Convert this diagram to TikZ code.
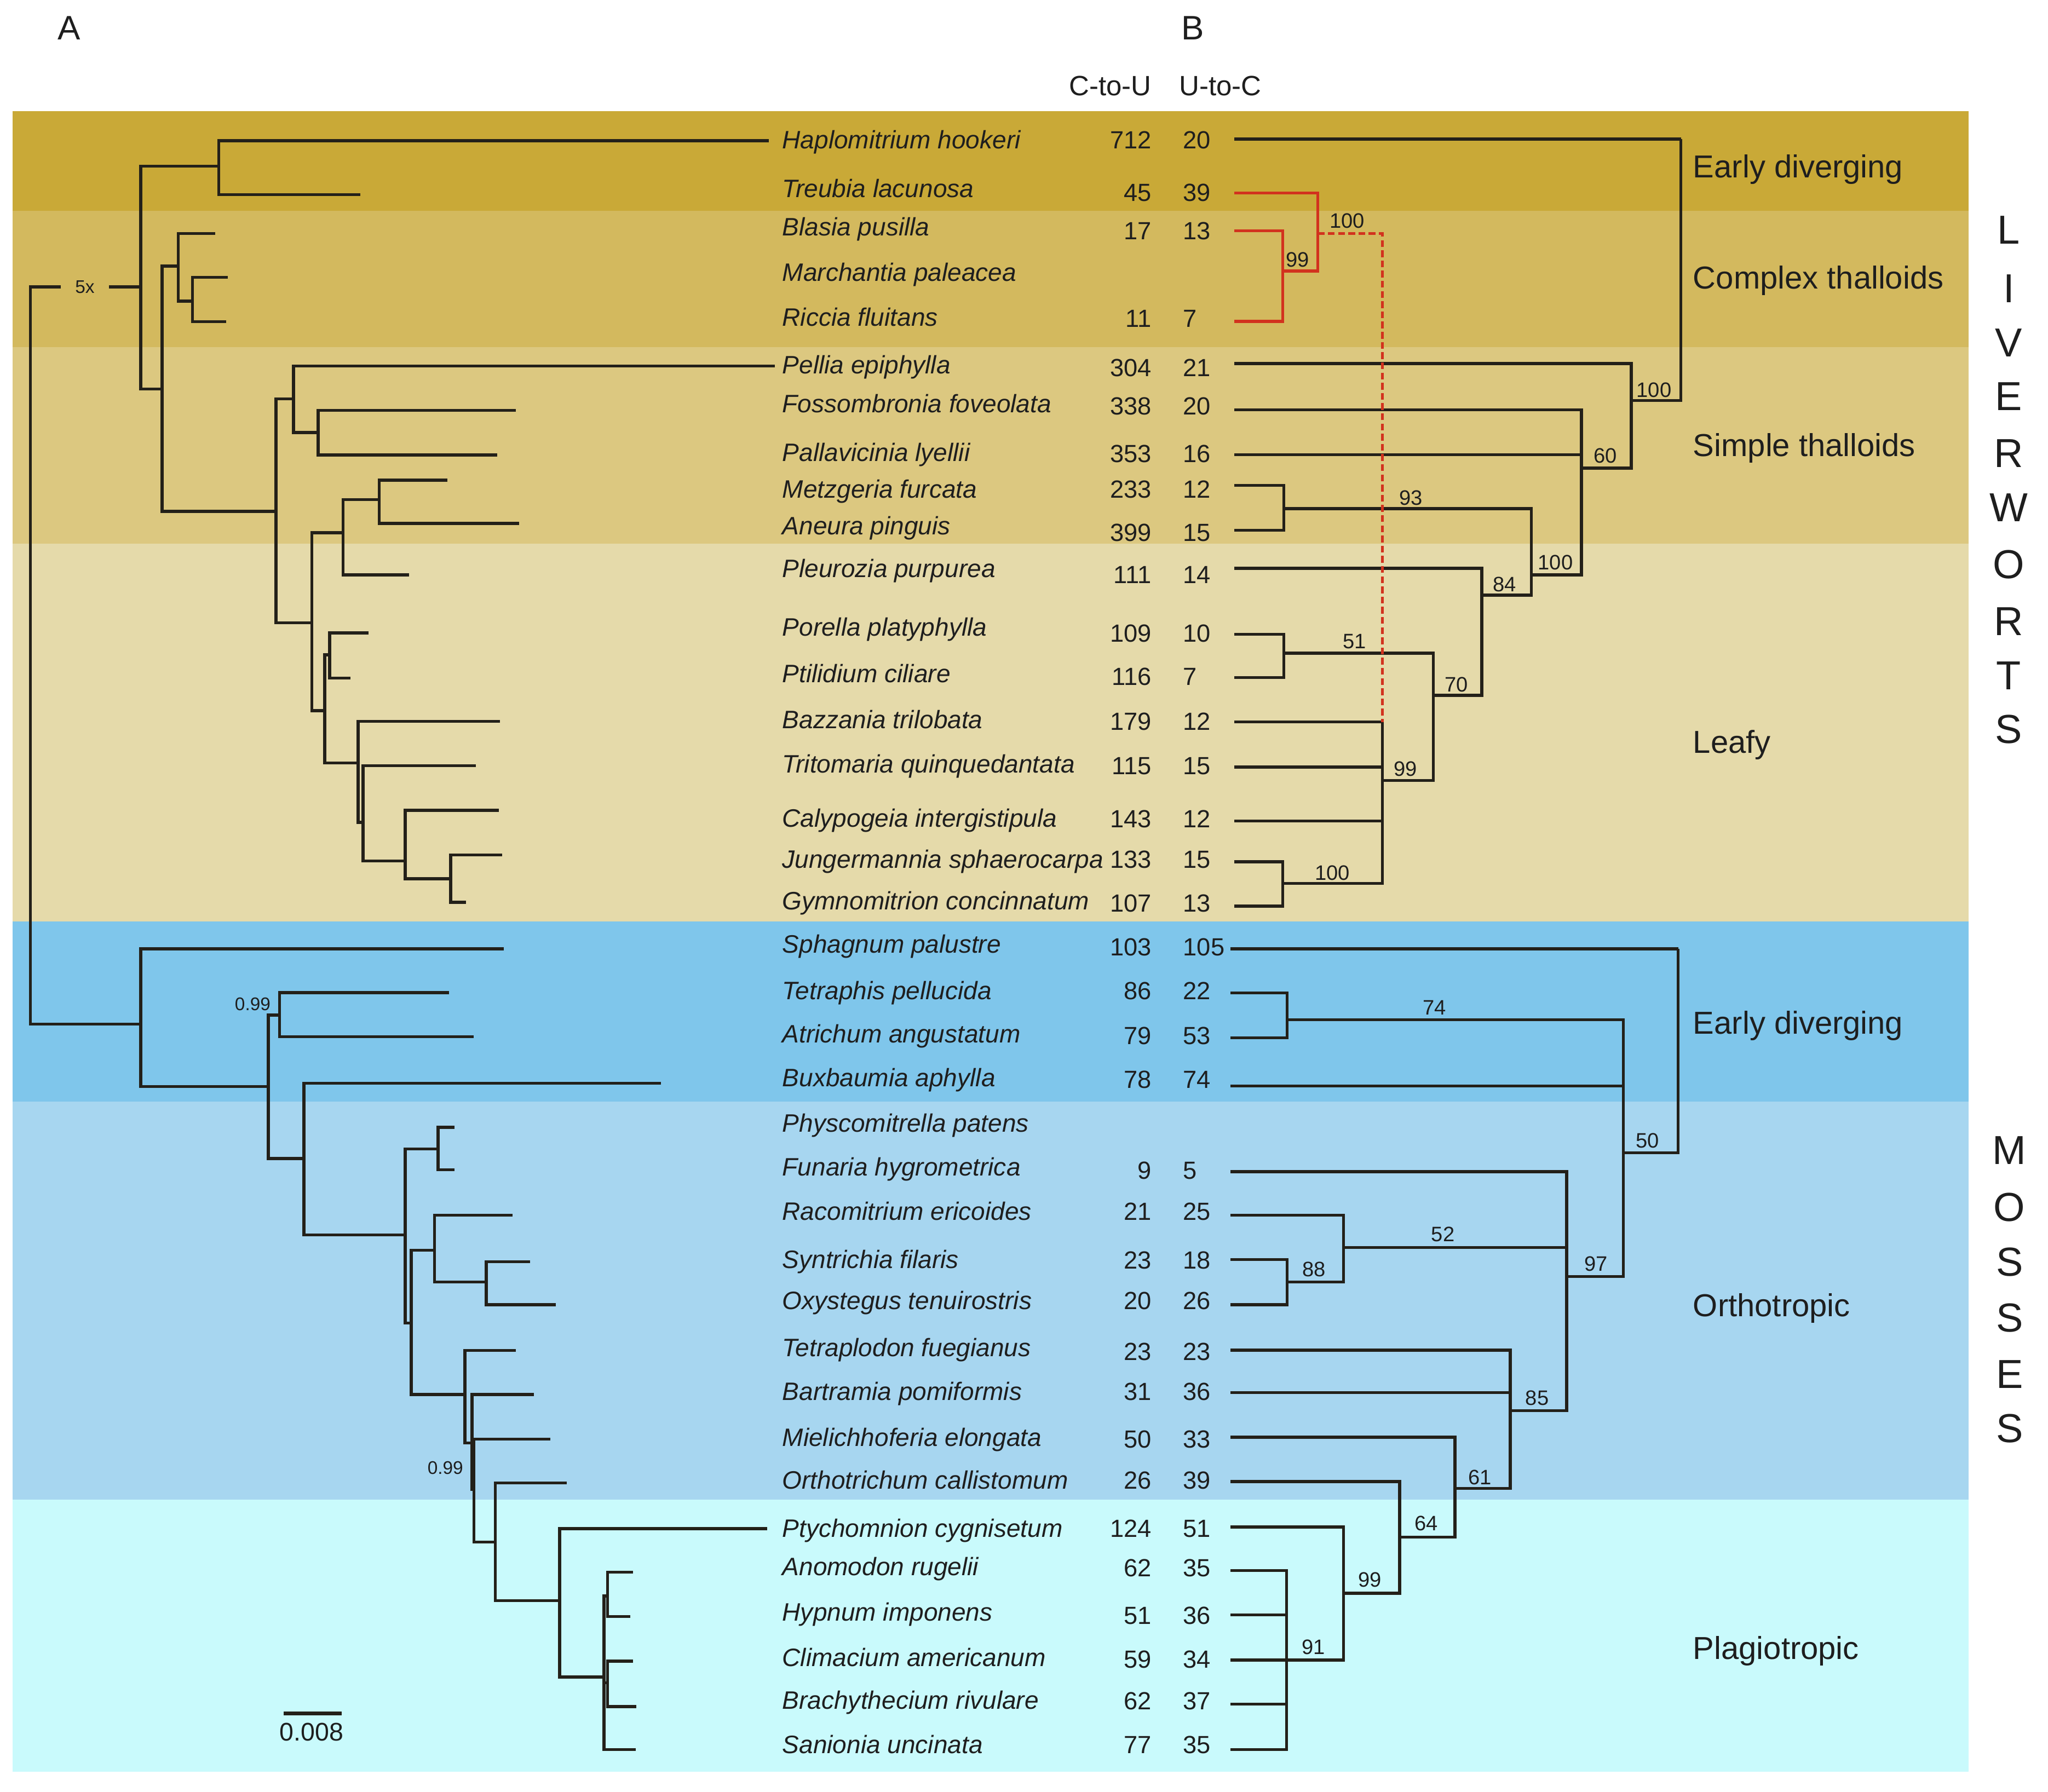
\documentclass[tikz,border=0pt]{standalone}
\usepackage{fontspec}
\setmainfont{Liberation Sans}
\definecolor{bandA}{RGB}{201,169,55}
\definecolor{bandB}{RGB}{211,185,94}
\definecolor{bandC}{RGB}{220,200,128}
\definecolor{bandD}{RGB}{229,218,170}
\definecolor{bandE}{RGB}{127,198,235}
\definecolor{bandF}{RGB}{167,214,240}
\definecolor{bandG}{RGB}{201,250,252}
\definecolor{treecol}{RGB}{35,32,25}
\definecolor{txtcol}{RGB}{30,30,30}
\definecolor{redcol}{RGB}{210,50,30}
\begin{document}
\begin{tikzpicture}[x=0.5pt,y=-0.5pt,
  tree/.style={line width=1.15pt,draw=treecol,line join=miter},
  redtree/.style={line width=1.15pt,draw=redcol,line join=miter},
  species/.style={anchor=west,inner sep=0pt,yshift=-0.9pt,text=txtcol,font=\fontsize{9.65}{11}\selectfont\itshape,text height=6.95pt,text depth=2.03pt},
  num/.style={inner sep=0pt,text=txtcol,font=\fontsize{9.5}{11}\selectfont,text height=6.8pt,text depth=0pt},
  grp/.style={anchor=west,inner sep=0pt,yshift=-0.9pt,text=txtcol,font=\fontsize{12.15}{14}\selectfont,text height=8.75pt,text depth=2.55pt},
  bigletter/.style={inner sep=0pt,text=txtcol,font=\fontsize{15.5}{17}\selectfont,text height=11.1pt,text depth=0pt},
  sup/.style={inner sep=0pt,text=txtcol,font=\fontsize{8}{9}\selectfont,text height=5.75pt,text depth=0pt},
  smallsup/.style={inner sep=0pt,text=txtcol,font=\fontsize{7}{8}\selectfont,text height=5pt,text depth=0pt},
  header/.style={inner sep=0pt,text=txtcol,font=\fontsize{10.7}{12}\selectfont,text height=7.7pt,text depth=0pt},
  panel/.style={inner sep=0pt,text=txtcol,font=\fontsize{13}{15}\selectfont,text height=9.3pt,text depth=0pt}]
\useasboundingbox (0,0) rectangle (1568,1372);
\fill[white] (0,0) rectangle (1568,1372);
% bands
\fill[bandA] (9.7,85) rectangle (1507.2,161.4);
\fill[bandB] (9.7,161.4) rectangle (1507.2,266);
\fill[bandC] (9.7,266) rectangle (1507.2,416.3);
\fill[bandD] (9.7,416.3) rectangle (1507.2,705.5);
\fill[bandE] (9.7,705.5) rectangle (1507.2,843.7);
\fill[bandF] (9.7,843.7) rectangle (1507.2,1148.4);
\fill[bandG] (9.7,1148.4) rectangle (1507.2,1356.7);

% panel letters and headers
\node[panel] (pA) at (52.7,21) {A};
\node[panel] (pB) at (913,21) {B};
\node[header,anchor=east] (hcu) at (882,65.4) {C-to-U};
\node[header,anchor=west] (huc) at (902.4,65.4) {U-to-C};

% species names
\foreach \n/\t/\y in {1/Haplomitrium hookeri/107.0,2/Treubia lacunosa/144.6,3/Blasia pusilla/173.7,4/Marchantia paleacea/208.7,5/Riccia fluitans/243.0,6/Pellia epiphylla/279.3,7/Fossombronia foveolata/309.3,8/Pallavicinia lyellii/346.5,9/Metzgeria furcata/374.7,10/Aneura pinguis/402.5,11/Pleurozia purpurea/435.5,12/Porella platyphylla/480.4,13/Ptilidium ciliare/515.9,14/Bazzania trilobata/551,15/Tritomaria quinquedantata/585.2,16/Calypogeia intergistipula/626.7,17/Jungermannia sphaerocarpa/657.9,18/Gymnomitrion concinnatum/690,19/Sphagnum palustre/722.9,20/Tetraphis pellucida/758.6,21/Atrichum angustatum/791.7,22/Buxbaumia aphylla/825.2,23/Physcomitrella patens/860,24/Funaria hygrometrica/893.6,25/Racomitrium ericoides/927.5,26/Syntrichia filaris/964.6,27/Oxystegus tenuirostris/995.9,28/Tetraplodon fuegianus/1032,29/Bartramia pomiformis/1065.6,30/Mielichhoferia elongata/1100.9,31/Orthotrichum callistomum/1133.5,32/Ptychomnion cygnisetum/1170.1,33/Anomodon rugelii/1199.7,34/Hypnum imponens/1234.6,35/Climacium americanum/1269.4,36/Brachythecium rivulare/1302.1,37/Sanionia uncinata/1336}
  {\node[species] (sp\n) at (598.6,\y) {\t};}

% editing counts
\foreach \n/\c/\u/\y in {1/712/20/107.0,2/45/39/147.1,3/17/13/176.7,5/11/7/243.8,6/304/21/281.5,7/338/20/310.6,8/353/16/347.3,9/233/12/374.7,10/399/15/407.7,11/111/14/439.8,12/109/10/484.7,13/116/7/518.0,14/179/12/552.3,15/115/15/586.1,16/143/12/626.7,17/133/15/657.9,18/107/13/691.3,19/103/105/725,20/86/22/758.6,21/79/53/793,22/78/74/826.5,24/9/5/896.2,25/21/25/927.5,26/23/18/964.6,27/20/26/995.9,28/23/23/1035,29/31/36/1065.6,30/50/33/1101.7,31/26/39/1133.5,32/124/51/1170.1,33/62/35/1200.6,34/51/36/1236.8,35/59/34/1270.3,36/62/37/1302.1,37/77/35/1336}
  {\node[num,anchor=east] (cu\n) at (882,\y) {\c};
   \node[num,anchor=west] (uc\n) at (905.5,\y) {\u};}

% ---------------- left tree (A) ----------------
\foreach \n/\x/\y in {1/588.5/107.7,2/276/149.1,3/164.8/178.7,4/174.5/212.3,5/173.3/246.4,6/593.2/280.2,7/395.1/314.3,8/380.5/348.4,9/342.4/367.6,10/397.6/400.8,11/313.3/440.3,12/282.3/484.6,13/268.2/519.3,14/382.7/552.3,15/364.4/586.4,16/381.9/620.5,17/384.6/654.6,18/356.7/691,19/385.8/726.5,20/343.9/760,21/362.5/793.8,22/506/829.4,23/347.8/863.2,24/347.8/895.8,25/392.4/930.5,26/405.9/966.1,27/425.7/999.1,28/394.9/1034,29/408.9/1067.8,30/421.4/1102,31/434/1135.6,32/587.4/1170.5,33/484.6/1203.9,34/482.7/1237.8,35/484.6/1272,36/487/1306.8,37/486.6/1339.8}
  {\coordinate (l\n) at (\x,\y);}
\coordinate (LR) at (23.3,500);
\coordinate (A1) at (107.8,219.6);
\coordinate (H1) at (167.5,127.3);
\coordinate (B1) at (124,297.8);
\coordinate (C1) at (136.5,203.7);
\coordinate (C2) at (147.3,230.5);
\coordinate (D1) at (211.3,391.6);
\coordinate (E1) at (224.8,305.5);
\coordinate (E2) at (243.5,331.1);
\coordinate (F1) at (238.8,476.8);
\coordinate (G1) at (262.6,407.9);
\coordinate (G2) at (290.3,382.6);
\coordinate (J1) at (248.6,544.2);
\coordinate (K1) at (252.3,501.5);
\coordinate (L1) at (274.1,584.2);
\coordinate (L2) at (278,629.6);
\coordinate (L3) at (310.2,659.2);
\coordinate (L4) at (345,672.9);
\coordinate (M1) at (107.8,784.2);
\coordinate (M2) at (205.5,832);
\coordinate (M3) at (214,777.3);
\coordinate (M4) at (232.6,887.1);
\coordinate (M5) at (310.2,945.7);
\coordinate (M6) at (335.4,879.7);
\coordinate (M7) at (314.8,1013);
\coordinate (M8) at (332.6,957.4);
\coordinate (M9) at (372.2,981.7);
\coordinate (M10) at (356,1067.8);
\coordinate (M11) at (361.3,1104.9);
\coordinate (M12) at (362.8,1140.5);
\coordinate (M13) at (379.2,1180.9);
\coordinate (M14) at (428.4,1225.6);
\coordinate (M15) at (462.5,1284.2);
\coordinate (M16) at (465.2,1222.1);
\coordinate (M17) at (465.2,1288.5);

\draw[tree] (LR) |- (A1) (LR) |- (M1);
\draw[tree] (A1) |- (H1) (A1) |- (B1);
\draw[tree] (H1) |- (l1) (H1) |- (l2);
\draw[tree] (B1) |- (C1) (B1) |- (D1);
\draw[tree] (C1) |- (l3) (C1) |- (C2);
\draw[tree] (C2) |- (l4) (C2) |- (l5);
\draw[tree] (D1) |- (E1) (D1) |- (F1);
\draw[tree] (E1) |- (l6) (E1) |- (E2);
\draw[tree] (E2) |- (l7) (E2) |- (l8);
\draw[tree] (F1) |- (G1) (F1) |- (J1);
\draw[tree] (G1) |- (G2) (G1) |- (l11);
\draw[tree] (G2) |- (l9) (G2) |- (l10);
\draw[tree] (J1) |- (K1) (J1) |- (L1);
\draw[tree] (K1) |- (l12) (K1) |- (l13);
\draw[tree] (L1) |- (l14) (L1) |- (L2);
\draw[tree] (L2) |- (l15) (L2) |- (L3);
\draw[tree] (L3) |- (l16) (L3) |- (L4);
\draw[tree] (L4) |- (l17) (L4) |- (l18);
\draw[tree] (M1) |- (l19) (M1) |- (M2);
\draw[tree] (M2) |- (M3) (M2) |- (M4);
\draw[tree] (M3) |- (l20) (M3) |- (l21);
\draw[tree] (M4) |- (l22) (M4) |- (M5);
\draw[tree] (M5) |- (M6) (M5) |- (M7);
\draw[tree] (M6) |- (l23) (M6) |- (l24);
\draw[tree] (M7) |- (M8) (M7) |- (M10);
\draw[tree] (M8) |- (l25) (M8) |- (M9);
\draw[tree] (M9) |- (l26) (M9) |- (l27);
\draw[tree] (M10) |- (l28) (M10) |- (M11);
\draw[tree] (M11) |- (l29) (M11) |- (M12);
\draw[tree] (M12) |- (l30) (M12) |- (M13);
\draw[tree] (M13) |- (l31) (M13) |- (M14);
\draw[tree] (M14) |- (l32) (M14) |- (M15);
\draw[tree] (M15) |- (M16) (M15) |- (M17) (M15) |- (l37);
\draw[tree] (M16) |- (l33) (M16) |- (l34);
\draw[tree] (M17) |- (l35) (M17) |- (l36);

\node[smallsup,fill=bandB,inner xsep=5.5pt] (five) at (65,219.6) {5x};
\node[smallsup,anchor=east] (pp1) at (207.5,768.6) {0.99};
\node[smallsup,anchor=east] (pp2) at (355,1123.7) {0.99};
\coordinate (sb1) at (217.3,1312);
\coordinate (sb2) at (261.6,1312);
\draw[tree,line width=1.4pt] (sb1) -- (sb2);
\node[num,font=\fontsize{9.75}{11}\selectfont] (sblab) at (238.6,1326.3) {0.008};

% ---------------- right tree (B) ----------------
\foreach \n/\y in {1/106.4,2/147.8,3/176.6,5/246,6/278.4,7/313.7,8/348.1,9/371.7,10/406.1,11/435.1,12/485.7,13/518.8,14/552.8,15/587.3,16/628.7,17/659.8,18/693.8}
  {\coordinate (r\n) at (945,\y);}
\foreach \n/\y in {19/726.5,20/760.4,21/794.7,22/831.5,24/897.1,25/930.5,26/964.4,27/999.1,28/1033.8,29/1066.3,30/1100.6,31/1134.5,32/1169.2,33/1202.6,34/1236.5,35/1271.2,36/1305,37/1339.8}
  {\coordinate (r\n) at (942,\y);}
\coordinate (RL) at (1286.9,106.4);
\coordinate (N60) at (1249,306.6);
\coordinate (NP) at (1210.7,358.4);
\coordinate (NC) at (1172.4,440.1);
\coordinate (N93) at (982.9,389.5);
\coordinate (N84) at (1134.5,455.8);
\coordinate (N70) at (1097.4,532.5);
\coordinate (N51) at (982.9,500.2);
\coordinate (N99) at (1058.3,597.6);
\coordinate (NJ) at (982.1,676.4);
\coordinate (R100) at (1008.9,178.7);
\coordinate (R99) at (982.1,207.6);
\coordinate (DZ) at (1058.3,552.8);
\coordinate (RM) at (1284.8,726.5);
\coordinate (N50) at (1242.8,882.8);
\coordinate (N74) at (985.4,780.8);
\coordinate (N97) at (1199.5,977.4);
\coordinate (N52) at (1028.6,955.2);
\coordinate (N88) at (985.4,981.7);
\coordinate (N85) at (1156.3,1080.2);
\coordinate (N61) at (1113.9,1139.7);
\coordinate (N64) at (1071.5,1177);
\coordinate (N99m) at (1028.6,1220);
\coordinate (N91) at (985,1271.2);

\draw[tree] (RL) |- (r1) (RL) |- (N60);
\draw[tree] (N60) |- (r6) (N60) |- (NP);
\draw[tree] (NP) |- (r7) (NP) |- (r8) (NP) |- (NC);
\draw[tree] (NC) |- (N93) (NC) |- (N84);
\draw[tree] (N93) |- (r9) (N93) |- (r10);
\draw[tree] (N84) |- (r11) (N84) |- (N70);
\draw[tree] (N70) |- (N51) (N70) |- (N99);
\draw[tree] (N51) |- (r12) (N51) |- (r13);
\draw[tree] (N99) |- (r14) (N99) |- (r15) (N99) |- (r16) (N99) |- (NJ);
\draw[tree] (NJ) |- (r17) (NJ) |- (r18);
\draw[redtree] (R100) |- (r2) (R100) |- (R99);
\draw[redtree] (R99) |- (r3) (R99) |- (r5);
\draw[redtree,dash pattern=on 2.6pt off 1.3pt] (R100) -| (DZ);
\draw[tree] (RM) |- (r19) (RM) |- (N50);
\draw[tree] (N50) |- (N74) (N50) |- (r22) (N50) |- (N97);
\draw[tree] (N74) |- (r20) (N74) |- (r21);
\draw[tree] (N97) |- (r24) (N97) |- (N52) (N97) |- (N85);
\draw[tree] (N52) |- (r25) (N52) |- (N88);
\draw[tree] (N88) |- (r26) (N88) |- (r27);
\draw[tree] (N85) |- (r28) (N85) |- (r29) (N85) |- (N61);
\draw[tree] (N61) |- (r30) (N61) |- (N64);
\draw[tree] (N64) |- (r31) (N64) |- (N99m);
\draw[tree] (N99m) |- (r32) (N99m) |- (N91);
\draw[tree] (N91) |- (r33) (N91) |- (r34) (N91) |- (r35) (N91) |- (r36) (N91) |- (r37);

% support values
\foreach \n/\v/\x/\y in {a/100/1031.5/168.7,b/99/993.5/198.7,c/100/1266.3/298.3,d/60/1229.2/348.9,e/93/1080.1/380.8,f/100/1190.9/430.6,g/84/1151.8/447.1,h/51/1036.9/490.7,i/70/1115.1/523.8,j/99/1076/588.5,k/100/1020/668,l/74/1098.2/771.2,m/50/1261.3/873.2,n/52/1104.8/944.8,o/97/1221.8/967.4,p/88/1006/971.7,q/85/1176.9/1070.2,r/61/1133.2/1131,s/64/1092.1/1166.2,t/99/1048.8/1209.6,u/91/1005.6/1261.2}
  {\node[sup] (bs\n) at (\x,\y) {\v};}

% group labels
\node[grp] (g1) at (1295.9,128) {Early diverging};
\node[grp] (g2) at (1295.9,213) {Complex thalloids};
\node[grp] (g3) at (1295.9,341.4) {Simple thalloids};
\node[grp] (g4) at (1295.9,568.6) {Leafy};
\node[grp] (g5) at (1295.9,783.8) {Early diverging};
\node[grp] (g6) at (1295.9,999.9) {Orthotropic};
\node[grp] (g7) at (1295.9,1262.5) {Plagiotropic};

% vertical words
\foreach \n/\ch/\y in {1/L/175.6,2/I/220.4,3/V/261.9,4/E/303.3,5/R/346.8,6/W/388.3,7/O/431.8,8/R/475.3,9/T/516.8,10/S/558.2}
  {\node[bigletter] (lv\n) at (1538,\y) {\ch};}
\foreach \n/\ch/\y in {1/M/880.6,2/O/924,3/S/966.1,4/S/1008.6,5/E/1052,6/S/1093.2}
  {\node[bigletter] (ms\n) at (1538.5,\y) {\ch};}
\end{tikzpicture}
\end{document}
